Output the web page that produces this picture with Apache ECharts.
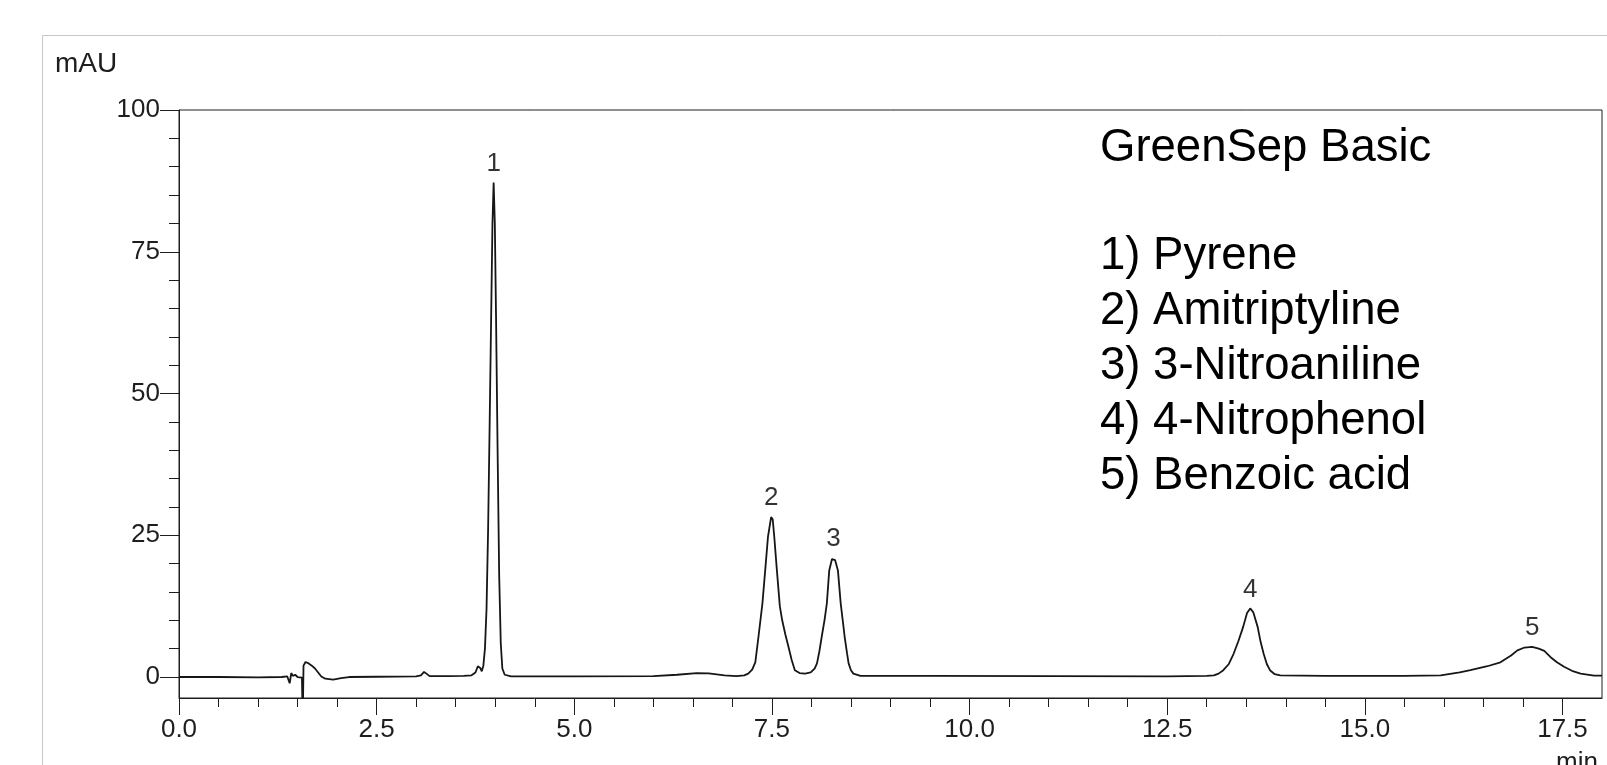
<!DOCTYPE html>
<html>
<head>
<meta charset="utf-8">
<script src="https://cdn.jsdelivr.net/npm/echarts@6/dist/echarts.min.js"></script>
<style>
html,body{margin:0;padding:0;background:#fff;}
#chart{width:1607px;height:765px;}
</style>
</head>
<body>
<div id="chart"></div>
<script>
// ---- data ----
const times = [
  0.00, 0.50, 1.00, 1.30, 1.37, 1.40, 1.42, 1.44, 1.47, 1.50,
  1.555, 1.565, 1.575, 1.60, 1.64, 1.68, 1.72, 1.76, 1.80, 1.85,
  1.95, 2.05, 2.15, 2.50, 3.00, 3.06, 3.10, 3.13, 3.17, 3.40,
  3.60, 3.70, 3.75, 3.78, 3.81, 3.83, 3.85, 3.87, 3.89, 3.91,
  3.93, 3.95, 3.965, 3.98, 3.995, 4.01, 4.03, 4.05, 4.07, 4.09,
  4.12, 4.20, 5.00, 6.00, 6.30, 6.55, 6.70, 6.90, 7.05, 7.15,
  7.20, 7.25, 7.29, 7.33, 7.38, 7.415, 7.45, 7.49, 7.51, 7.53,
  7.563, 7.60, 7.63, 7.67, 7.71, 7.75, 7.79, 7.85, 7.92, 7.99,
  8.04, 8.07, 8.10, 8.13, 8.165, 8.195, 8.225, 8.26, 8.28, 8.30,
  8.335, 8.37, 8.40, 8.42, 8.45, 8.47, 8.50, 8.53, 8.62, 9.50,
  11.00, 12.50, 13.00, 13.09, 13.15, 13.21, 13.28, 13.34, 13.40, 13.46,
  13.51, 13.55, 13.59, 13.645, 13.68, 13.72, 13.76, 13.80, 13.86, 13.93,
  14.50, 15.50, 15.96, 16.20, 16.335, 16.55, 16.715, 16.85, 16.93, 17.02,
  17.116, 17.20, 17.27, 17.35, 17.43, 17.52, 17.62, 17.73, 17.90, 18.00
];
const signal = [
  0.0, 0.0, -0.05, 0.0, 0.1, -1.1, 0.7, 0.2, 0.4, 0.0,
  -0.1, -8.0, 2.0, 2.65, 2.4, 2.0, 1.5, 0.8, 0.1, -0.3,
  -0.45, -0.2, 0.0, 0.05, 0.1, 0.3, 0.9, 0.6, 0.15, 0.15,
  0.2, 0.3, 0.8, 1.9, 1.6, 1.0, 2.0, 5.0, 12.0, 26.0,
  45.0, 65.0, 80.0, 87.2, 80.0, 64.0, 40.0, 18.0, 6.0, 1.5,
  0.4, 0.1, 0.1, 0.15, 0.4, 0.7, 0.65, 0.3, 0.15, 0.3,
  0.6, 1.3, 2.6, 7.1, 13.0, 18.8, 24.7, 28.2, 27.8, 24.7,
  18.8, 12.5, 10.0, 7.5, 5.3, 3.0, 1.2, 0.7, 0.6, 0.8,
  1.5, 2.4, 4.5, 7.1, 10.0, 13.0, 18.8, 20.8, 21.1, 20.6,
  18.8, 13.0, 9.5, 7.1, 4.2, 2.4, 1.2, 0.6, 0.2, 0.2,
  0.15, 0.1, 0.2, 0.3, 0.6, 1.2, 2.3, 4.1, 6.3, 8.8,
  11.3, 12.1, 11.4, 8.8, 6.3, 4.1, 2.3, 1.2, 0.5, 0.3,
  0.2, 0.2, 0.3, 0.8, 1.2, 1.9, 2.6, 3.8, 4.7, 5.2,
  5.3, 5.0, 4.6, 3.5, 2.6, 1.8, 1.1, 0.6, 0.25, 0.25
];
const peakTimes   = [3.98, 7.49, 8.28, 13.55, 17.116];
const peakHeights = [87.2, 28.2, 21.1, 12.1, 5.3];
const peakLabels  = ['1', '2', '3', '4', '5'];
const xMajorTicks = [0, 2.5, 5, 7.5, 10, 12.5, 15, 17.5];
const xMinorTicks = [0.5,1,1.5,2,3,3.5,4,4.5,5.5,6,6.5,7,8,8.5,9,9.5,10.5,11,11.5,12,13,13.5,14,14.5,15.5,16,16.5,17];
const yMajorTicks = [0, 25, 50, 75, 100];
const yMinorTicks = [5,10,15,20,30,35,40,45,55,60,65,70,80,85,90,95];
const yUnit = 'mAU';
const xUnit = 'min';
const legendTitle = 'GreenSep Basic';
const legendItems = ['1) Pyrene', '2) Amitriptyline', '3) 3-Nitroaniline', '4) 4-Nitrophenol', '5) Benzoic acid'];

// ---- chart ----
const FONT = "'Liberation Sans', Arial, sans-serif";
const AX = '#1e1e1e';
const chart = echarts.init(document.getElementById('chart'), null, {renderer: 'canvas'});

const lineData = times.map((t, i) => [t, signal[i]]);
const peakData = peakTimes.map((t, i) => [t, peakHeights[i]]);

const legendGraphics = [{
  type: 'text', silent: true, x: 1100, y: 148,
  style: {text: legendTitle, font: '45.5px ' + FONT, fill: '#000', verticalAlign: 'middle', align: 'left'}
}];
legendItems.forEach((s, i) => {
  legendGraphics.push({
    type: 'text', silent: true, x: 1100, y: 256 + i * 55,
    style: {text: s, font: '45.5px ' + FONT, fill: '#000', verticalAlign: 'middle', align: 'left'}
  });
});

const option = {
  animation: false,
  backgroundColor: '#fff',
  grid: {left: 179, right: 5, top: 110, bottom: 67, show: true, borderColor: AX, borderWidth: 1, backgroundColor: 'transparent'},
  xAxis: [
    {
      type: 'value', min: 0, max: 18, position: 'bottom',
      axisLine: {show: true, onZero: false, lineStyle: {color: AX, width: 1}},
      axisTick: {show: true, length: 17, customValues: xMajorTicks, lineStyle: {color: AX, width: 1}},
      axisLabel: {customValues: xMajorTicks, formatter: v => Number(v).toFixed(1), margin: 19, fontSize: 26, color: AX, fontFamily: FONT},
      splitLine: {show: false}
    },
    {
      type: 'value', min: 0, max: 18, position: 'bottom',
      axisLine: {show: false, onZero: false},
      axisTick: {show: true, length: 9, customValues: xMinorTicks, lineStyle: {color: AX, width: 1}},
      axisLabel: {show: false},
      splitLine: {show: false}
    }
  ],
  yAxis: [
    {
      type: 'value', min: -3.7, max: 100, position: 'left',
      axisLine: {show: true, onZero: false, lineStyle: {color: AX, width: 1}},
      axisTick: {show: true, length: 19, customValues: yMajorTicks, lineStyle: {color: AX, width: 1}},
      axisLabel: {customValues: yMajorTicks, margin: 19, fontSize: 26, color: AX, fontFamily: FONT},
      splitLine: {show: false}
    },
    {
      type: 'value', min: -3.7, max: 100, position: 'left',
      axisLine: {show: false, onZero: false},
      axisTick: {show: true, length: 10, customValues: yMinorTicks, lineStyle: {color: AX, width: 1}},
      axisLabel: {show: false},
      splitLine: {show: false}
    }
  ],
  series: [
    {
      type: 'line', xAxisIndex: 0, yAxisIndex: 0, data: lineData,
      showSymbol: false, smooth: false, clip: true, silent: true,
      lineStyle: {color: '#161616', width: 1.8}
    },
    {
      type: 'scatter', xAxisIndex: 0, yAxisIndex: 0, data: peakData,
      symbolSize: 0, silent: true,
      label: {show: true, position: 'top', distance: 6, fontSize: 26, color: '#000', fontFamily: FONT,
              formatter: p => peakLabels[p.dataIndex]}
    }
  ],
  graphic: [
    {type: 'rect', silent: true, shape: {x: 42.5, y: 35.5, width: 1700, height: 900},
     style: {fill: 'none', stroke: '#c6c6c6', lineWidth: 1}},
    {type: 'text', silent: true, x: 55, y: 64, style: {text: yUnit, font: '28px ' + FONT, fill: AX, verticalAlign: 'middle', align: 'left'}},
    {type: 'text', silent: true, x: 1577, y: 763, style: {text: xUnit, font: '26px ' + FONT, fill: AX, verticalAlign: 'middle', align: 'center'}}
  ].concat(legendGraphics)
};
chart.setOption(option);
</script>
</body>
</html>
